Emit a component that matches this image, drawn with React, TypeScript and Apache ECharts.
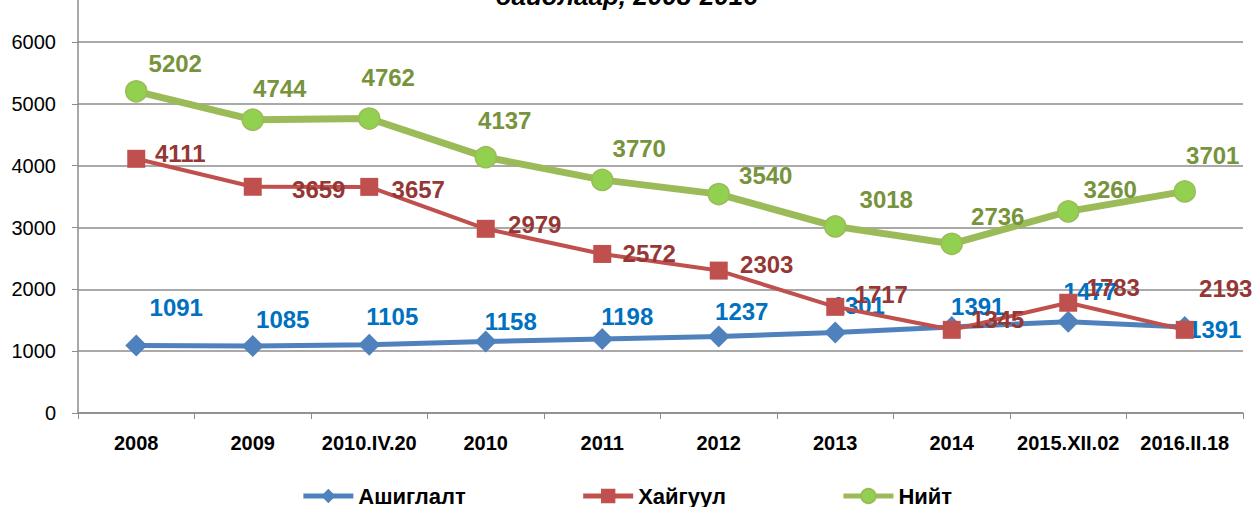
import React, { useEffect, useRef } from "react";
import * as echarts from "echarts";

const categories = ["2008", "2009", "2010.IV.20", "2010", "2011", "2012", "2013", "2014", "2015.XII.02", "2016.II.18"];
const yTicks = [0, 1000, 2000, 3000, 4000, 5000, 6000];

const ashiglaltValues = [1091, 1085, 1105, 1158, 1198, 1237, 1301, 1391, 1477, 1391];
const ashiglaltLabels = ["1091", "1085", "1105", "1158", "1198", "1237", "1301", "1391", "1477", "1391"];

const haiguulValues = [4111, 3659, 3657, 2979, 2572, 2303, 1717, 1345, 1783, 1345];
const haiguulLabels = ["4111", "3659", "3657", "2979", "2572", "2303", "1717", "1345", "1783", "2193"];

const niitValues = [5202, 4744, 4762, 4137, 3770, 3540, 3018, 2736, 3260, 3584];
const niitLabels = ["5202", "4744", "4762", "4137", "3770", "3540", "3018", "2736", "3260", "3701"];

// label offsets (styling)
const blueOffsets = [[40, -38], [30, -26], [23, -28], [25, -20], [25, -22], [23, -25], [23, -27], [26, -20], [22, -30], [30, 3]];
const redOffsets = [[44, -5], [66, 3], [49, 3], [49, -4], [47, 0], [48, -6], [46, -12], [46, -10], [45, -15], [41, -41]];
const greenOffsets = [[39, -28], [27, -31], [19, -41], [19, -37], [37, -31], [47, -19], [51, -27], [46, -27], [42, -22], [28, -36]];

const FONT = "'Liberation Sans', Arial, sans-serif";

function makeData(values: number[], offsets: number[][]) {
  return values.map((v, i) => ({ value: v, label: { offset: offsets[i] } }));
}

export default function App() {
  const ref = useRef<HTMLDivElement>(null);
  useEffect(() => {
    if (!ref.current) return;
    const chart = echarts.init(ref.current, null, { renderer: "svg" });
    const labelBase = (color: string, labels: string[]) => ({
      show: true,
      position: "inside",
      color,
      fontFamily: FONT,
      fontWeight: "bold",
      fontSize: 24,
      formatter: (p: any) => labels[p.dataIndex],
    });
    chart.setOption({
      animation: false,
      backgroundColor: "#ffffff",
      grid: { left: 78, right: 10, top: 42, bottom: 94, containLabel: false },
      graphic: [
        {
          type: "text",
          left: "center",
          top: -17,
          style: {
            text: "байдлаар, 2008-2016",
            font: "italic bold 26px 'Liberation Sans', Arial, sans-serif",
            fill: "#000",
          },
        },
        {
          type: "line",
          shape: { x1: 78, y1: 0, x2: 78, y2: 42 },
          style: { stroke: "#8c8c8c", lineWidth: 1.5 },
        },
      ],
      legend: {
        left: "center",
        top: 480,
        itemGap: 115,
        itemWidth: 50,
        itemHeight: 18,
        lineStyle: { width: 5 },
        textStyle: { fontFamily: FONT, fontWeight: "bold", fontSize: 22, color: "#000" },
        data: ["Ашиглалт", "Хайгуул", "Нийт"],
      },
      xAxis: {
        type: "category",
        data: categories,
        boundaryGap: true,
        axisLine: { lineStyle: { color: "#8c8c8c", width: 1.5 } },
        axisTick: { show: true, length: 6, lineStyle: { color: "#8c8c8c" } },
        axisLabel: {
          interval: 0,
          color: "#000",
          fontFamily: FONT,
          fontWeight: "bold",
          fontSize: 20,
          margin: 20,
        },
      },
      yAxis: {
        type: "value",
        min: yTicks[0],
        max: yTicks[yTicks.length - 1],
        interval: 1000,
        axisLine: { show: true, lineStyle: { color: "#8c8c8c", width: 1.5 } },
        axisTick: { show: true, length: 6, lineStyle: { color: "#8c8c8c" } },
        splitLine: { lineStyle: { color: "#8c8c8c", width: 1.5 } },
        axisLabel: {
          color: "#000",
          fontFamily: FONT,
          fontSize: 20,
          margin: 22,
          formatter: (v: number) => String(v),
        },
      },
      series: [
        {
          name: "Ашиглалт",
          type: "line",
          data: makeData(ashiglaltValues, blueOffsets),
          symbol: "diamond",
          symbolSize: 22,
          lineStyle: { color: "#4F81BD", width: 5 },
          itemStyle: { color: "#4F81BD" },
          label: labelBase("#0070C0", ashiglaltLabels),
          z: 2,
        },
        {
          name: "Хайгуул",
          type: "line",
          data: makeData(haiguulValues, redOffsets),
          symbol: "rect",
          symbolSize: 18,
          lineStyle: { color: "#C0504D", width: 4 },
          itemStyle: { color: "#C0504D" },
          label: labelBase("#953735", haiguulLabels),
          z: 3,
        },
        {
          name: "Нийт",
          type: "line",
          data: makeData(niitValues, greenOffsets),
          symbol: "circle",
          symbolSize: 21,
          lineStyle: { color: "#9BBB59", width: 7 },
          itemStyle: { color: "#92D050", borderColor: "#9BBB59", borderWidth: 1.5 },
          label: labelBase("#77933C", niitLabels),
          z: 4,
        },
      ],
    });
    return () => chart.dispose();
  }, []);
  return <div ref={ref} style={{ width: 1253, height: 507, position: "absolute", left: 0, top: 0 }} />;
}
